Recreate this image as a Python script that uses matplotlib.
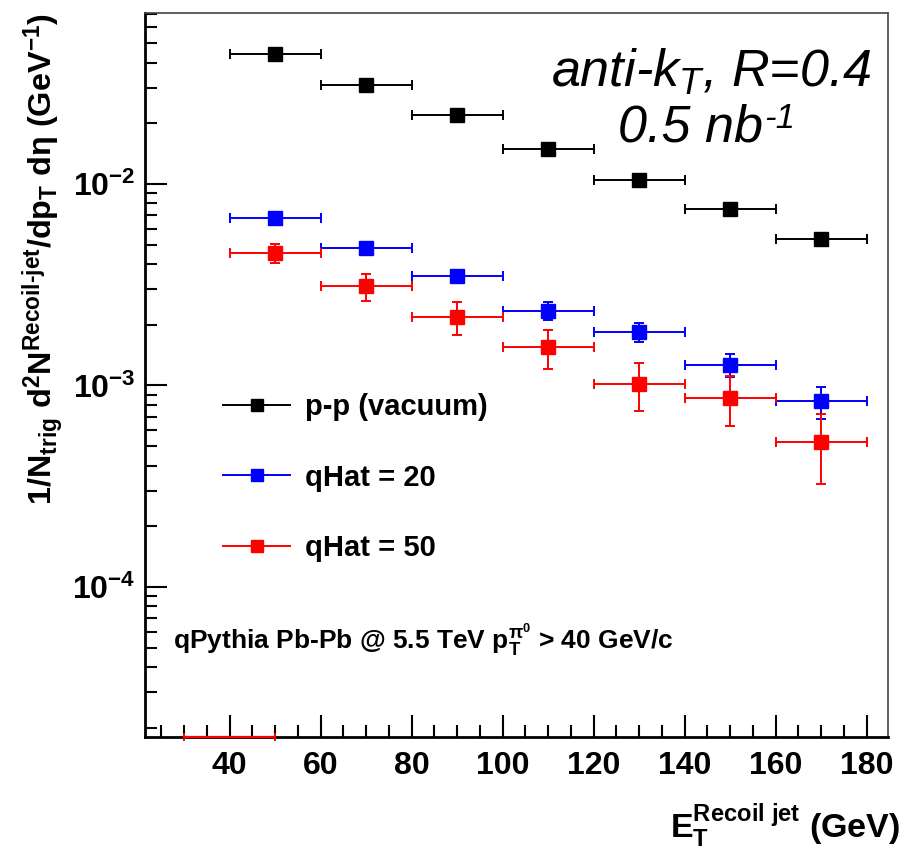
import numpy as np
import matplotlib
matplotlib.use("Agg")
import matplotlib.pyplot as plt
from matplotlib.lines import Line2D
from matplotlib.ticker import LogLocator, MultipleLocator, NullFormatter, FuncFormatter

plt.rcParams["font.family"] = ["Liberation Sans", "DejaVu Sans"]
plt.rcParams["mathtext.fontset"] = "custom"
plt.rcParams["mathtext.rm"] = "Liberation Sans:bold"
plt.rcParams["mathtext.bf"] = "Liberation Sans:bold"
plt.rcParams["mathtext.sf"] = "Liberation Sans:bold"
plt.rcParams["mathtext.it"] = "Liberation Sans:italic"
plt.rcParams["mathtext.default"] = "bf"

# recoil jet E_T bins (GeV)
et_centers = [50, 70, 90, 110, 130, 150, 170]
et_halfwidth = [10, 10, 10, 10, 10, 10, 10]

# 1/N_trig d2N/dpT deta (GeV^-1)
pp_vals = [0.0442, 0.0311, 0.0220, 0.0149, 0.0105, 0.00754, 0.00533]
pp_errs = [0.0006, 0.0005, 0.0004, 0.0003, 0.0002, 0.00015, 0.0001]
q20_vals = [0.00678, 0.00481, 0.00348, 0.00235, 0.00184, 0.00127, 0.000834]
q20_errs = [0.00015, 0.00015, 0.00025, 0.00025, 0.0002, 0.00017, 0.00015]
q50_vals = [0.00455, 0.00310, 0.00218, 0.00155, 0.00102, 0.00087, 0.000525]
q50_errs = [0.0005, 0.00048, 0.0004, 0.00034, 0.00027, 0.00024, 0.0002]

# empty 30-50 GeV bin of the qHat=50 histogram (sits on the lower edge)
q50_empty_x = [40]
q50_empty_halfwidth = [10]

series = [
    ("p-p (vacuum)", pp_vals, pp_errs, "black"),
    ("qHat = 20", q20_vals, q20_errs, "#0000ff"),
    ("qHat = 50", q50_vals, q50_errs, "#ff0000"),
]

XMIN, XMAX = 21.4, 184.7
YMIN, YMAX = 1.8e-5, 0.0705

fig = plt.figure(figsize=(9.03, 8.51), dpi=100)
ax = fig.add_axes([145 / 903, 1 - 737 / 851, 743 / 903, 724 / 851])
ax.set_yscale("log")
ax.set_xlim(XMIN, XMAX)
ax.set_ylim(YMIN, YMAX)

handles = []
for label, vals, errs, col in series:
    ax.errorbar(et_centers, vals, xerr=et_halfwidth, yerr=errs, fmt="s", color=col,
                ms=9.5, elinewidth=1.4, capsize=3.5, capthick=1.4, zorder=3)
    handles.append(Line2D([], [], color=col, lw=1.4, marker="s", ms=8.5))

ax.errorbar(q50_empty_x, [YMIN] * len(q50_empty_x), xerr=q50_empty_halfwidth,
            fmt="none", ecolor="#ff0000", elinewidth=1.6, capsize=3, capthick=1.4,
            clip_on=False, zorder=4)

# ticks
ax.xaxis.set_major_locator(MultipleLocator(20))
ax.xaxis.set_minor_locator(MultipleLocator(5))
ax.xaxis.set_major_formatter(FuncFormatter(lambda v, p: "%d" % v if v >= 40 else ""))
ax.yaxis.set_major_locator(LogLocator(base=10))
ax.yaxis.set_minor_locator(LogLocator(base=10, subs=np.arange(2, 10)))
ax.yaxis.set_minor_formatter(NullFormatter())
ax.yaxis.set_major_formatter(FuncFormatter(lambda v, p: r"$10^{%d}$" % round(np.log10(v))))
ax.tick_params(which="both", direction="in", top=False, right=False, width=1.5)
ax.tick_params(which="major", length=16, labelsize=23)
ax.tick_params(which="minor", length=8.5)
ax.tick_params(axis="x", which="major", pad=10)
ax.tick_params(axis="y", which="major", pad=7)
for lab in ax.get_xticklabels() + ax.get_yticklabels():
    lab.set_fontweight("bold")

for side in ["left", "bottom"]:
    ax.spines[side].set_linewidth(2)
for side in ["top", "right"]:
    ax.spines[side].set_linewidth(1.2)
    ax.spines[side].set_color("#444444")

# axis titles
fig.text(43 / 903, 1 - 259 / 851,
         r"1/N$_{trig}$ d$^{2}$N$^{Recoil\text{-}jet}$/dp$_{T}$ dη (GeV$^{-1}$)",
         rotation=90, ha="center", va="center", fontsize=23.3, fontweight="bold")
fig.text(900 / 903, 1 - 826 / 851, r"E$_{T}^{Recoil\ jet}$ (GeV)",
         ha="right", va="center", fontsize=24.5, fontweight="bold")

# annotations
ax.text(0.762, 0.918, r"anti-$\mathit{k}_{\mathit{T}}$, R=0.4", transform=ax.transAxes,
        ha="center", va="center", fontsize=37.5, fontstyle="italic")
lumi = ax.text(0.6366, 0.841, "0.5 nb", transform=ax.transAxes,
               ha="left", va="center", fontsize=37.5, fontstyle="italic")
ax.annotate("-1", xy=(1.0, 1.0), xycoords=lumi, xytext=(1, 1), textcoords="offset points",
            ha="left", va="top", fontsize=25, fontstyle="italic")
ax.text(0.038, 0.135, r"qPythia Pb-Pb @ 5.5 TeV p$_{T}^{\pi^{0}}$ > 40 GeV/c",
        transform=ax.transAxes, ha="left", va="center", fontsize=19, fontweight="bold")

ax.legend(handles, [s[0] for s in series], loc="upper left", bbox_to_anchor=(0.07, 0.511),
          frameon=False, prop={"weight": "bold", "size": 21},
          handlelength=2.3, handletextpad=0.5, labelspacing=1.45)

fig.savefig("out.png", dpi=100)
